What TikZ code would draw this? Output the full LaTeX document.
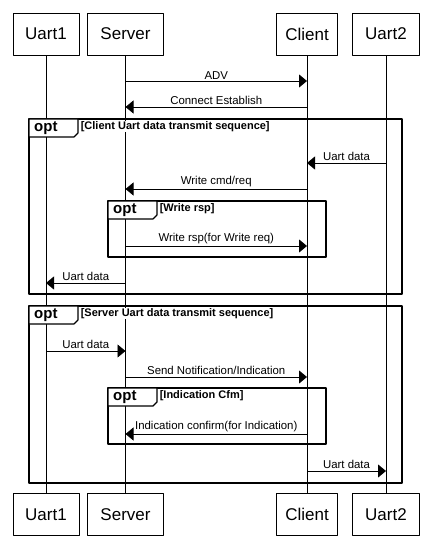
\documentclass[tikz,border=0pt]{standalone}
\usepackage{fontspec}
\setmainfont{Liberation Sans}
\usetikzlibrary{arrows.meta}
\tikzset{>={Triangle[length=8pt,width=13pt]}}
\tikzset{
  actor/.style={draw, minimum height=42pt, inner sep=0pt, font=\fontsize{17}{20}\selectfont},
  msg/.style={->, line width=0.8pt},
  msglbl/.style={above, inner sep=1.5pt, font=\fontsize{11.4}{13}\selectfont},
  frame/.style={draw, line width=1.4pt},
  tab/.style={line width=1.2pt, fill=white},
  optname/.style={anchor=west, inner sep=0pt, font=\bfseries\fontsize{15}{17}\selectfont},
  guard/.style={anchor=north west, fill=white, inner sep=0.6pt, font=\bfseries\fontsize{11}{12}\selectfont}
}

\begin{document}
\begin{tikzpicture}[x=1pt, y=-1pt, line join=round]
    \useasboundingbox (0,0) rectangle (432,553);

    \node[actor, minimum width=66pt] (u1) at (46,34) {Uart1};
    \node[actor, minimum width=76pt] (srv) at (125.5,34) {Server};
    \node[actor, minimum width=61pt] (cli) at (307,34) {Client};
    \node[actor, minimum width=67pt] (u2) at (386,34) {Uart2};

    \node[actor, minimum width=66pt] (u1b) at (46,514.5) {Uart1};
    \node[actor, minimum width=76pt] (srvb) at (125.5,514.5) {Server};
    \node[actor, minimum width=61pt] (clib) at (307,514.5) {Client};
    \node[actor, minimum width=67pt] (u2b) at (386,514.5) {Uart2};

    \draw[line width=0.7pt] (u1.south) -- (u1b.north);
    \draw[line width=0.7pt] (srv.south) -- (srvb.north);
    \draw[line width=0.7pt] (cli.south) -- (clib.north);
    \draw[line width=0.7pt] (u2.south) -- (u2b.north);

    \draw[msg] (srv |- 0,81) -- node[msglbl] {ADV} (cli |- 0,81);
    \draw[msg] (cli |- 0,107) -- node[msglbl] {Connect Establish} (srv |- 0,107);

    % opt: client side
    \draw[frame] (29,119) rectangle (402,294);
    \node[guard] (g1) at (80,120.5) {[Client Uart data transmit sequence]};
    \draw[tab] (29,119) -- (29,137) -- (74,137) -- (78,133) -- (78,119) -- cycle;
    \node[optname] (o1) at (34,128.5) {opt};

    \draw[msg] (u2 |- 0,163) -- node[msglbl] {Uart data} (cli |- 0,163);
    \draw[msg] (cli |- 0,189) -- node[msglbl] {Write cmd/req} (srv |- 0,189);

    \draw[frame] (108,201) rectangle (326,257);
    \node[guard] (g2) at (159,202.5) {[Write rsp]};
    \draw[tab] (108,201) -- (108,219) -- (153,219) -- (157,215) -- (157,201) -- cycle;
    \node[optname] (o2) at (113,210.5) {opt};

    \draw[msg] (srv |- 0,246) -- node[msglbl] {Write rsp(for Write req)} (cli |- 0,246);
    \draw[msg] (srv |- 0,283) -- node[msglbl] {Uart data} (u1 |- 0,283);

    % opt: server side
    \draw[frame] (29,306) rectangle (402,483);
    \node[guard] (g3) at (80,307.5) {[Server Uart data transmit sequence]};
    \draw[tab] (29,306) -- (29,324) -- (74,324) -- (78,320) -- (78,306) -- cycle;
    \node[optname] (o3) at (34,315.5) {opt};

    \draw[msg] (u1 |- 0,351) -- node[msglbl] {Uart data} (srv |- 0,351);
    \draw[msg] (srv |- 0,377) -- node[msglbl] {Send Notification/Indication} (cli |- 0,377);

    \draw[frame] (108,388) rectangle (326,444);
    \node[guard] (g4) at (159,389.5) {[Indication Cfm]};
    \draw[tab] (108,388) -- (108,406) -- (153,406) -- (157,402) -- (157,388) -- cycle;
    \node[optname] (o4) at (113,397.5) {opt};

    \draw[msg] (cli |- 0,434) -- node[msglbl] {Indication confirm(for Indication)} (srv |- 0,434);
    \draw[msg] (cli |- 0,471) -- node[msglbl] {Uart data} (u2 |- 0,471);

\end{tikzpicture}
\end{document}
